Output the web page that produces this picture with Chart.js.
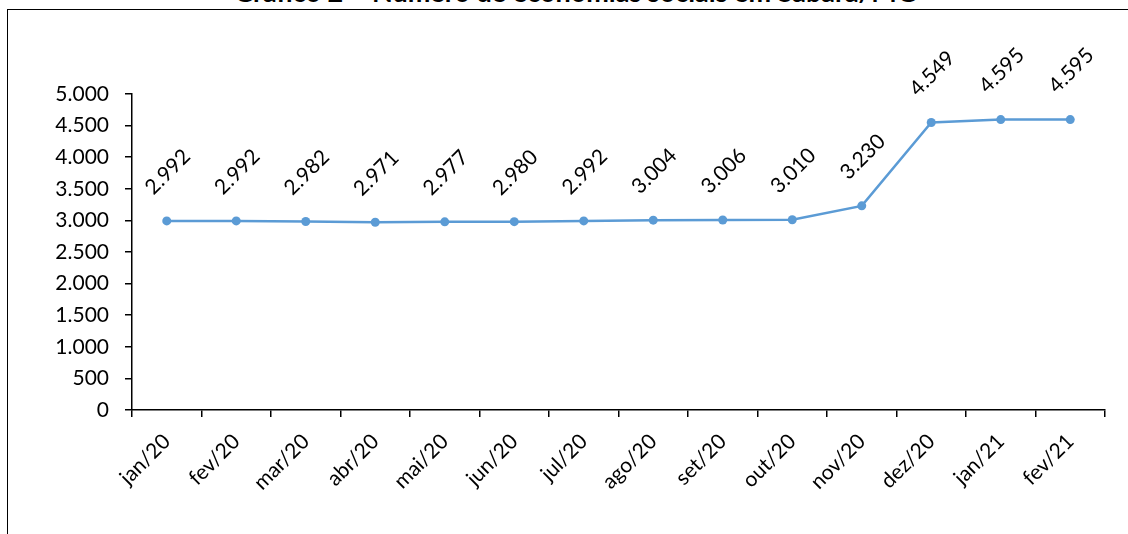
<!DOCTYPE html>
<html>
<head>
<meta charset="utf-8">
<script src="https://cdn.jsdelivr.net/npm/chart.js@4.4.0/dist/chart.umd.min.js"></script>
<style>
    html, body { margin: 0; padding: 0; background: #fff; overflow: hidden; }
    #titulo {
        position: absolute; left: 0; top: -23px; width: 1150px;
        text-align: center; font: bold 27px Lato, sans-serif; color: #000;
        line-height: 30px; white-space: nowrap;
    }
    #moldura {
        position: absolute; left: 7px; top: 9px; width: 1200px; height: 600px;
        border: 1.5px solid #000; box-sizing: border-box;
    }
    #wrap { position: absolute; left: 0; top: 0; width: 1128px; height: 534px; }
</style>
</head>
<body>
<div id="titulo">Gráfico 2 – Número de economias sociais em Sabará/MG</div>
<div id="moldura"></div>
<div id="wrap"><canvas id="grafico" width="1128" height="534"></canvas></div>
<script>
// Meses e número de economias sociais
const meses = ['jan/20', 'fev/20', 'mar/20', 'abr/20', 'mai/20', 'jun/20', 'jul/20',
               'ago/20', 'set/20', 'out/20', 'nov/20', 'dez/20', 'jan/21', 'fev/21'];
const economias = [2992, 2992, 2982, 2971, 2977, 2980, 2992,
                   3004, 3006, 3010, 3230, 4549, 4595, 4595];
const yTicks = [0, 500, 1000, 1500, 2000, 2500, 3000, 3500, 4000, 4500, 5000];

// formato brasileiro: 2.992
function fmt(v) {
    return String(v).replace(/\B(?=(\d{3})+(?!\d))/g, '.');
}

// rótulos de dados girados acima dos pontos
const rotulos = {
    id: 'rotulos',
    afterDatasetsDraw(chart) {
        const ctx = chart.ctx;
        const meta = chart.getDatasetMeta(0);
        ctx.save();
        ctx.font = '21px Lato, sans-serif';
        ctx.fillStyle = '#000';
        ctx.textAlign = 'center';
        ctx.textBaseline = 'middle';
        meta.data.forEach((pt, i) => {
            ctx.save();
            ctx.translate(pt.x + 1, pt.y - 49);
            ctx.rotate(-Math.PI / 4);
            ctx.fillText(fmt(economias[i]), 0, 0);
            ctx.restore();
        });
        ctx.restore();
    }
};

Chart.defaults.font.family = 'Lato, sans-serif';
Chart.defaults.color = '#000';

new Chart(document.getElementById('grafico'), {
    type: 'line',
    data: {
        labels: meses,
        datasets: [{
            data: economias,
            borderColor: '#5B9BD5',
            backgroundColor: '#5B9BD5',
            borderWidth: 2.5,
            pointRadius: 4.5,
            pointBorderWidth: 0,
            tension: 0,
            clip: false
        }]
    },
    options: {
        responsive: false,
        animation: false,
        devicePixelRatio: 1,
        layout: { padding: { top: 94, right: 23, bottom: 24, left: 0 } },
        plugins: {
            legend: { display: false },
            tooltip: { enabled: false }
        },
        scales: {
            x: {
                offset: true,
                grid: { offset: true, drawOnChartArea: false, drawTicks: true, tickLength: 7, color: '#000', lineWidth: 1.5 },
                border: { color: '#000', width: 1.5 },
                ticks: { font: { size: 21 }, maxRotation: 45, minRotation: 45, padding: 12 },
                afterFit: s => { s.height = 100; }
            },
            y: {
                min: 0,
                max: 5000,
                afterBuildTicks: s => { s.ticks = yTicks.map(v => ({ value: v })); },
                grid: { drawOnChartArea: false, drawTicks: true, tickLength: 7, color: '#000', lineWidth: 1.5 },
                border: { color: '#000', width: 1.5 },
                ticks: { font: { size: 21 }, padding: 16, callback: v => fmt(v) },
                afterFit: s => { s.width = 132; }
            }
        }
    },
    plugins: [rotulos]
});
</script>
</body>
</html>
